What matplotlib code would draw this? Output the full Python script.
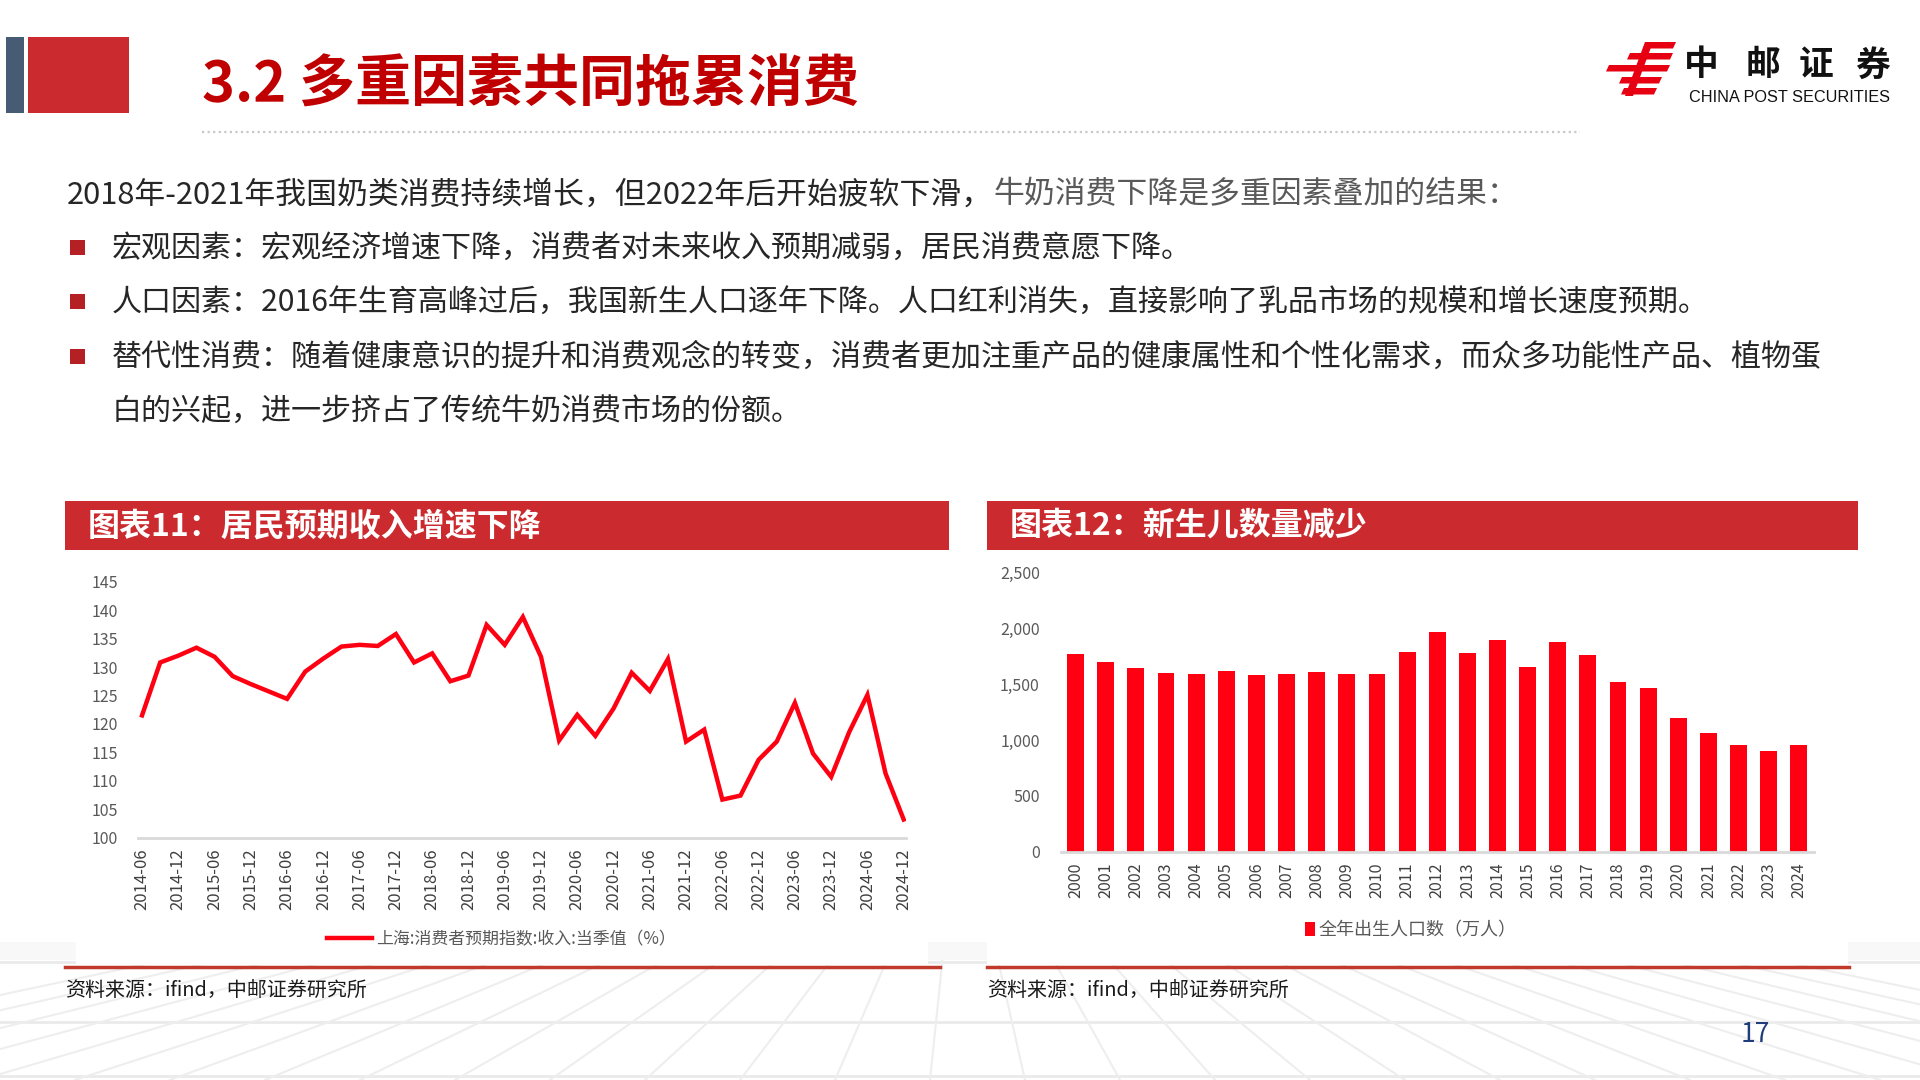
import numpy as np
import matplotlib
matplotlib.use("Agg")
from matplotlib import pyplot as plt
from matplotlib.patches import Rectangle, Polygon
from matplotlib.ticker import FuncFormatter

plt.rcParams['font.family'] = ['Noto Sans CJK SC', 'DejaVu Sans']

# DATA
income_ticks = ["2014-06", "2014-12", "2015-06", "2015-12", "2016-06", "2016-12",
                "2017-06", "2017-12", "2018-06", "2018-12", "2019-06", "2019-12",
                "2020-06", "2020-12", "2021-06", "2021-12", "2022-06", "2022-12",
                "2023-06", "2023-12", "2024-06", "2024-12"]
# quarterly values, 2014-06 .. 2024-12
income_index = [121.5, 130.8, 132.0, 133.4, 131.8, 128.4, 127.0, 125.7, 124.4, 129.2,
                131.5, 133.6, 133.9, 133.7, 135.8, 130.8, 132.4, 127.5, 128.5, 137.4,
                133.9, 138.8, 131.8, 117.1, 121.6, 117.9, 122.7, 129.0, 125.8, 131.4,
                116.9, 119.0, 106.7, 107.4, 113.7, 116.9, 123.7, 114.8, 110.7, 118.6,
                125.1, 111.3, 103.2]
income_label = "上海:消费者预期指数:收入:当季值（%）"

birth_years = ["2000", "2001", "2002", "2003", "2004", "2005", "2006", "2007", "2008",
               "2009", "2010", "2011", "2012", "2013", "2014", "2015", "2016", "2017",
               "2018", "2019", "2020", "2021", "2022", "2023", "2024"]
births = [1771, 1702, 1647, 1599, 1593, 1617, 1585, 1595, 1608, 1591, 1592, 1785, 1973,
          1776, 1897, 1655, 1883, 1765, 1523, 1465, 1202, 1062, 956, 902, 954]
births_label = "全年出生人口数（万人）"

title = "3.2 多重因素共同拖累消费"
intro_a = "2018年-2021年我国奶类消费持续增长，但2022年后开始疲软下滑，"
intro_b = "牛奶消费下降是多重因素叠加的结果："
bullets = ["宏观因素：宏观经济增速下降，消费者对未来收入预期减弱，居民消费意愿下降。",
           "人口因素：2016年生育高峰过后，我国新生人口逐年下降。人口红利消失，直接影响了乳品市场的规模和增长速度预期。",
           "替代性消费：随着健康意识的提升和消费观念的转变，消费者更加注重产品的健康属性和个性化需求，而众多功能性产品、植物蛋"]
bullet_tail = "白的兴起，进一步挤占了传统牛奶消费市场的份额。"
chart1_title = "图表11：居民预期收入增速下降"
chart2_title = "图表12：新生儿数量减少"
source = "资料来源：ifind，中邮证券研究所"

W, H = 1920, 1080
RED = "#FF0013"
BAND = "#CB2A2E"
GREY = "#595959"
TICK = "#404040"


def px_rect(x0, y0, x1, y1):
    return [x0 / W, 1 - y1 / H, (x1 - x0) / W, (y1 - y0) / H]


fig = plt.figure(figsize=(19.2, 10.8), dpi=100)
fig.patch.set_facecolor("white")

# BACKGROUND / PAGE DECORATION
bg = fig.add_axes([0, 0, 1, 1])
bg.set_xlim(0, W)
bg.set_ylim(H, 0)
bg.axis("off")

# faint floor lines
for yy in [962, 1022, 1076]:
    bg.plot([0, W], [yy, yy], color="#EAEAEA", lw=2, zorder=0)
for xb in np.arange(-400, 2400, 95):
    bg.plot([xb, 960 + (xb - 960) * 0.55], [1080, 950], color="#EEEEEE", lw=1.5, zorder=0)
bg.add_patch(Rectangle((0, 942), W, 18, color="#F8F8F8", zorder=0, lw=0))

bg.add_patch(Rectangle((6, 37), 18, 76, color="#475C74", lw=0))
bg.add_patch(Rectangle((28, 37), 101, 76, color=BAND, lw=0))
bg.text(202, 86, title, fontsize=40.3, fontweight="bold", color="#C00000", va="center", ha="left")
bg.plot([202, 1580], [132, 132], linestyle=(0, (1, 1.5)), color="#C8C8C8", lw=1.6)

# logo
def bar(xl, xr, yt, h, s=3):
    return Polygon([(xl + s, yt), (xr + s, yt), (xr, yt + h), (xl, yt + h)],
                   closed=True, color="#E60012", lw=0)

for xl, xr, yt in [(1643, 1673, 42), (1627, 1670, 53), (1606, 1667, 65), (1619, 1659, 77), (1621, 1654, 88)]:
    bg.add_patch(bar(xl, xr, yt, 6.5))
bg.add_patch(Polygon([(1645, 42), (1653, 42), (1633, 96), (1625, 96)], closed=True, color="#E60012", lw=0))
for ch, cx in zip("中邮证券", [1701, 1763, 1816, 1872]):
    bg.text(cx, 65, ch, fontsize=25, fontweight="bold", color="#111111", ha="center", va="center")
bg.text(1689, 98, "CHINA POST SECURITIES", fontsize=11.7, family="Liberation Sans",
        color="#111111", ha="left", va="center")

# intro text
t1 = bg.text(67, 195, intro_a, fontsize=22.2, color="#262626", ha="left", va="center")
bg.annotate(intro_b, xy=(1, 0), xycoords=t1, fontsize=22.2, color=GREY, ha="left", va="bottom")
for yy, txt in zip([248, 302, 357], bullets):
    bg.add_patch(Rectangle((70, yy - 8), 15, 15, color="#B52025", lw=0))
    bg.text(112, yy, txt, fontsize=21.65, color="#262626", ha="left", va="center")
bg.text(112, 411, bullet_tail, fontsize=21.65, color="#262626", ha="left", va="center")

# chart panels and title bands
bg.plot([65, 940], [967, 967], color="#C0392B", lw=2.5)
bg.plot([987, 1849], [967, 967], color="#C0392B", lw=2.5)
bg.add_patch(Rectangle((76, 555), 852, 410, color="white", lw=0))
bg.add_patch(Rectangle((987, 555), 861, 410, color="white", lw=0))
bg.add_patch(Rectangle((65, 501), 884, 49, color=BAND, lw=0))
bg.add_patch(Rectangle((987, 501), 871, 49, color=BAND, lw=0))
bg.text(88, 526, chart1_title, fontsize=23, fontweight="bold", color="white", ha="left", va="center")
bg.text(1010, 526, chart2_title, fontsize=23, fontweight="bold", color="white", ha="left", va="center")
bg.text(65, 990, source, fontsize=14.4, color="#1A1A1A", ha="left", va="center")
bg.text(987, 990, source, fontsize=14.4, color="#1A1A1A", ha="left", va="center")
bg.text(1755, 1035, "17", fontsize=19, color="#1F3D7A", ha="center", va="center")

# CHART 11 - INCOME EXPECTATION
ax1 = fig.add_axes(px_rect(137.5, 581.7, 905.5, 837.7))
x1 = np.arange(len(income_index))
line, = ax1.plot(x1, income_index, color=RED, lw=3.2, solid_joinstyle="miter")
ax1.set_xlim(-0.25, 42.1)
ax1.set_ylim(100, 145)
ax1.set_yticks(np.arange(100, 146, 5))
ax1.set_xticks(x1[::2])
ax1.set_xticklabels(income_ticks, rotation=90, fontsize=12, color=TICK)
ax1.tick_params(axis="y", labelsize=11.5, labelcolor=GREY, length=0, pad=14)
ax1.tick_params(axis="x", length=0, pad=8)
for s in ["top", "right", "left"]:
    ax1.spines[s].set_visible(False)
ax1.spines["bottom"].set_color("#D9D9D9")
ax1.spines["bottom"].set_linewidth(2)
ax1.patch.set_alpha(0)
ax1.legend([line], [income_label], loc="center", bbox_to_anchor=(501, 939),
           bbox_transform=bg.transData, frameon=False, fontsize=12.2, labelcolor=GREY,
           handlelength=2.7, handletextpad=0.2)

# CHART 12 - BIRTHS
ax2 = fig.add_axes(px_rect(1060.6, 572.7, 1813.8, 851.7))
x2 = np.arange(len(births))
bars = ax2.bar(x2, births, width=0.56, color=RED)
ax2.set_xlim(-0.5, 24.5)
ax2.set_ylim(0, 2500)
ax2.set_yticks(np.arange(0, 2501, 500))
ax2.yaxis.set_major_formatter(FuncFormatter(lambda v, p: f"{int(v):,}"))
ax2.set_xticks(x2)
ax2.set_xticklabels(birth_years, rotation=90, fontsize=11.6, color=TICK)
ax2.tick_params(axis="y", labelsize=11.5, labelcolor=GREY, length=0, pad=15)
ax2.tick_params(axis="x", length=0, pad=8)
for s in ["top", "right", "left"]:
    ax2.spines[s].set_visible(False)
ax2.spines["bottom"].set_color("#D9D9D9")
ax2.spines["bottom"].set_linewidth(2)
ax2.patch.set_alpha(0)
ax2.legend([bars], [births_label], loc="center", bbox_to_anchor=(1411, 930),
           bbox_transform=bg.transData, frameon=False, fontsize=13, labelcolor=GREY,
           handlelength=0.55, handleheight=0.8, handletextpad=0.2)

fig.savefig("out.png", dpi=100)
